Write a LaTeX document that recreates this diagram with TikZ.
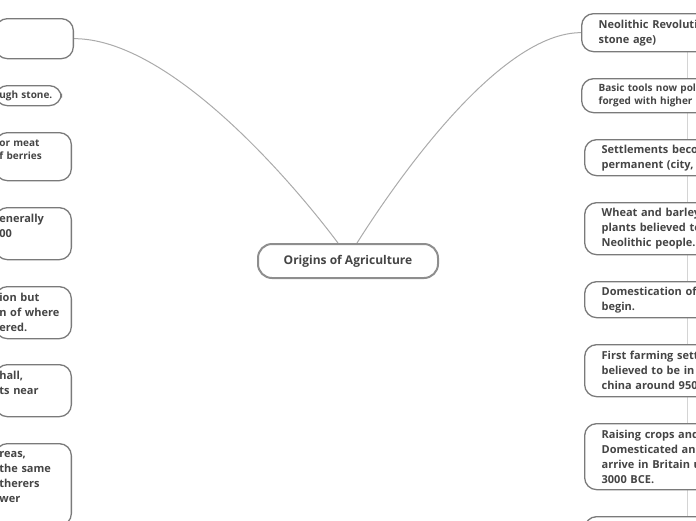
\documentclass[tikz,border=0pt]{standalone}
\usepackage{fontspec}
\setmainfont{Open Sans}
\usetikzlibrary{backgrounds}
\usepackage{xcolor}
\definecolor{edge}{HTML}{7A7A7A}
\definecolor{ink}{HTML}{454545}
\definecolor{wire}{HTML}{ABABAB}
\definecolor{rail}{HTML}{D4D4D4}

\begin{document}
\begin{tikzpicture}[x=1pt,y=-1pt,
        topic/.style={rectangle,rounded corners=12pt,draw=edge,line width=1.3pt,fill=white,
                  text=ink,align=left,inner ysep=0pt,font=\fontsize{11}{15}\selectfont\bfseries},
        small/.style={font=\fontsize{10}{13}\selectfont\bfseries},
        lt/.style={topic,anchor=north east,inner xsep=4pt,text width=68pt},
        rt/.style={topic,anchor=north west,inner xsep=17pt,text width=140pt},
        root/.style={rectangle,rounded corners=14pt,draw=edge!85,line width=2pt,fill=white,
                  text=ink,minimum width=180pt,minimum height=34pt,
                  font=\fontsize{12}{15}\selectfont\bfseries}]
        \useasboundingbox (0,0) rectangle (696,520);
        \clip (0,0) rectangle (696,520);
        \node[root] (root) at (348,261) {Origins of Agriculture};
        % left branch
        \node[lt,text width=70pt,minimum height=40pt] (l1) at (74,18) {};
        \node[lt,small,text width=58pt,minimum height=20pt] (l2) at (62,85) {ugh stone.};
        \node[lt,small,minimum height=48pt] (l3) at (72,132) {or meat\\f berries\\\mbox{}};
        \node[lt,minimum height=52pt] (l4) at (72,207) {enerally\\00\\\mbox{}};
        \node[lt,minimum height=52pt] (l5) at (72,286) {ion but\\n of where\\ered.};
        \node[lt,minimum height=52pt] (l6) at (72,364) {hall,\\ts near\\\mbox{}};
        \node[lt,minimum height=82pt] (l7) at (72,443) {reas,\\the same\\therers\\wer\\\mbox{}};
        % right branch
        \node[rt,minimum height=38pt] (r1) at (581,13) {Neolithic Revoluti\\stone age)};
        \node[rt,small,minimum height=34pt] (r2) at (581,78) {Basic tools now poli\\forged with higher};
        \node[rt,minimum height=36pt] (r3) at (584,139) {Settlements beco\\permanent (city, s};
        \node[rt,minimum height=52pt] (r4) at (584,202) {Wheat and barley\\plants believed to\\Neolithic people.};
        \node[rt,minimum height=36pt] (r5) at (584,281) {Domestication of\\begin.};
        \node[rt,minimum height=52pt] (r6) at (584,344) {First farming sett\\believed to be in s\\china around 9500};
        \node[rt,minimum height=66pt] (r7) at (584,423) {Raising crops and\\Domesticated ani\\arrive in Britain u\\3000 BCE.};
        \node[rt,minimum height=40pt] (r8) at (584,516) {};
        \coordinate (railx) at (687,0);
        \begin{pgfonlayer}{background}
          \draw[wire,line width=1pt] ([xshift=-10pt]root.north) .. controls +(-48,-64) and +(95,0) .. (l1.east);
          \draw[wire,line width=1pt] ([xshift=9pt]root.north) .. controls +(41,-65) and +(-81,0) .. (r1.west);
          \draw[rail,line width=1pt] (r1.south -| railx) -- (r8.north -| railx);
        \end{pgfonlayer}
      \end{tikzpicture}
\end{document}
